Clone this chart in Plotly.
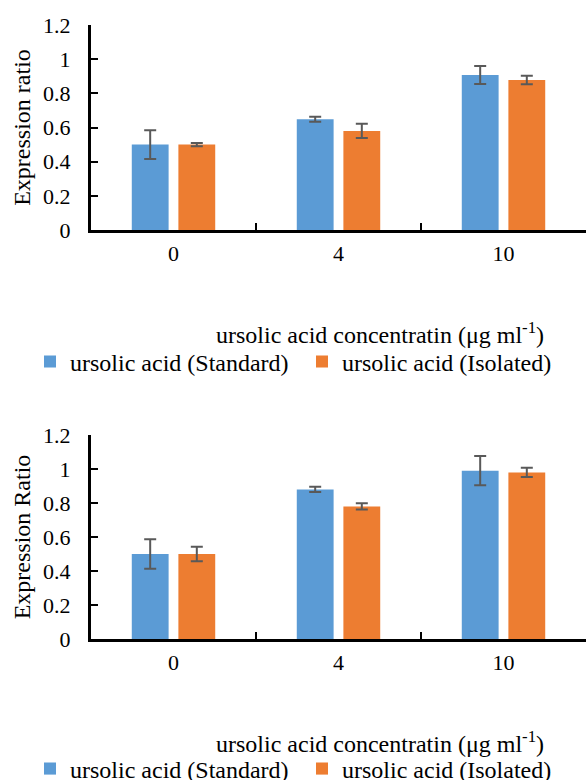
import plotly.graph_objects as go

categories = ["0", "4", "10"]
series_names = ["ursolic acid (Standard)", "ursolic acid (Isolated)"]
colors = ["#5B9BD5", "#ED7D31"]

# Top chart
top_standard = [0.50, 0.648, 0.907]
top_standard_err = [0.084, 0.015, 0.053]
top_isolated = [0.50, 0.580, 0.878]
top_isolated_err = [0.010, 0.042, 0.025]

# Bottom chart
bot_standard = [0.50, 0.88, 0.99]
bot_standard_err = [0.087, 0.015, 0.086]
bot_isolated = [0.50, 0.78, 0.98]
bot_isolated_err = [0.042, 0.018, 0.027]

y_ticks = [0, 0.2, 0.4, 0.6, 0.8, 1, 1.2]
y_titles = ["Expression ratio", "Expression Ratio"]
x_title = "ursolic acid concentratin (μg ml<sup>-1</sup>)"

FONT = "Times New Roman, Liberation Serif, DejaVu Serif, serif"
FS_TICK = 22
FS = 24

fig = go.Figure()

def add(vals, errs, name, color, xa, ya, legend):
    fig.add_trace(go.Bar(
        x=categories, y=vals, name=name, marker=dict(color=color, line=dict(width=0)),
        error_y=dict(type="data", array=errs, visible=True, color="#595959", thickness=2, width=6),
        xaxis=xa, yaxis=ya, legend=legend,
    ))

add(top_standard, top_standard_err, series_names[0], colors[0], "x", "y", "legend")
add(top_isolated, top_isolated_err, series_names[1], colors[1], "x", "y", "legend")
add(bot_standard, bot_standard_err, series_names[0], colors[0], "x2", "y2", "legend2")
add(bot_isolated, bot_isolated_err, series_names[1], colors[1], "x2", "y2", "legend2")

xd = [91 / 588, 586 / 588]
axis_common_x = dict(
    showline=True, linecolor="black", linewidth=3, ticks="inside", tickson="boundaries",
    ticklen=7, tickwidth=2, tickcolor="black", showgrid=False, zeroline=False,
    tickfont=dict(family=FONT, size=FS_TICK, color="black"), ticklabelstandoff=2,
    domain=xd, fixedrange=True, automargin=False,
)
axis_common_y = dict(
    showline=True, linecolor="black", linewidth=3, ticks="inside", ticklen=7, tickwidth=2,
    tickcolor="black", showgrid=False, zeroline=False, range=[0, 1.2], tickvals=y_ticks,
    tickfont=dict(family=FONT, size=FS_TICK, color="black"), ticklabelstandoff=13,
    fixedrange=True, automargin=False,
)

leg_common = dict(orientation="h", x=30 / 588, xanchor="left", yanchor="middle",
                  font=dict(family=FONT, size=FS), itemwidth=30, bgcolor="rgba(0,0,0,0)",
                  entrywidth=227, entrywidthmode="pixels")

fig.update_layout(
    width=588, height=780, margin=dict(l=0, r=0, t=0, b=0, autoexpand=False),
    paper_bgcolor="white", plot_bgcolor="white",
    barmode="group", bargap=0.435, bargroupgap=0.21,
    font=dict(family=FONT, size=FS, color="black"),
    xaxis=dict(axis_common_x, anchor="y"),
    xaxis2=dict(axis_common_x, anchor="y2"),
    yaxis=dict(axis_common_y, anchor="x", domain=[1 - 230 / 780, 1 - 25 / 780],
               title=dict(text=y_titles[0], font=dict(family=FONT, size=FS), standoff=6)),
    yaxis2=dict(axis_common_y, anchor="x2", domain=[1 - 639 / 780, 1 - 435 / 780],
                title=dict(text=y_titles[1], font=dict(family=FONT, size=FS), standoff=6)),
    legend=dict(leg_common, y=1 - 362 / 780),
    legend2=dict(leg_common, y=1 - 769 / 780),
    annotations=[
        dict(text=x_title, x=380 / 588, y=1 - 333 / 780, xref="paper", yref="paper",
             showarrow=False, font=dict(family=FONT, size=FS), xanchor="center", yanchor="middle"),
        dict(text=x_title, x=380 / 588, y=1 - 742 / 780, xref="paper", yref="paper",
             showarrow=False, font=dict(family=FONT, size=FS), xanchor="center", yanchor="middle"),
    ],
)

fig.write_html("out.html")
